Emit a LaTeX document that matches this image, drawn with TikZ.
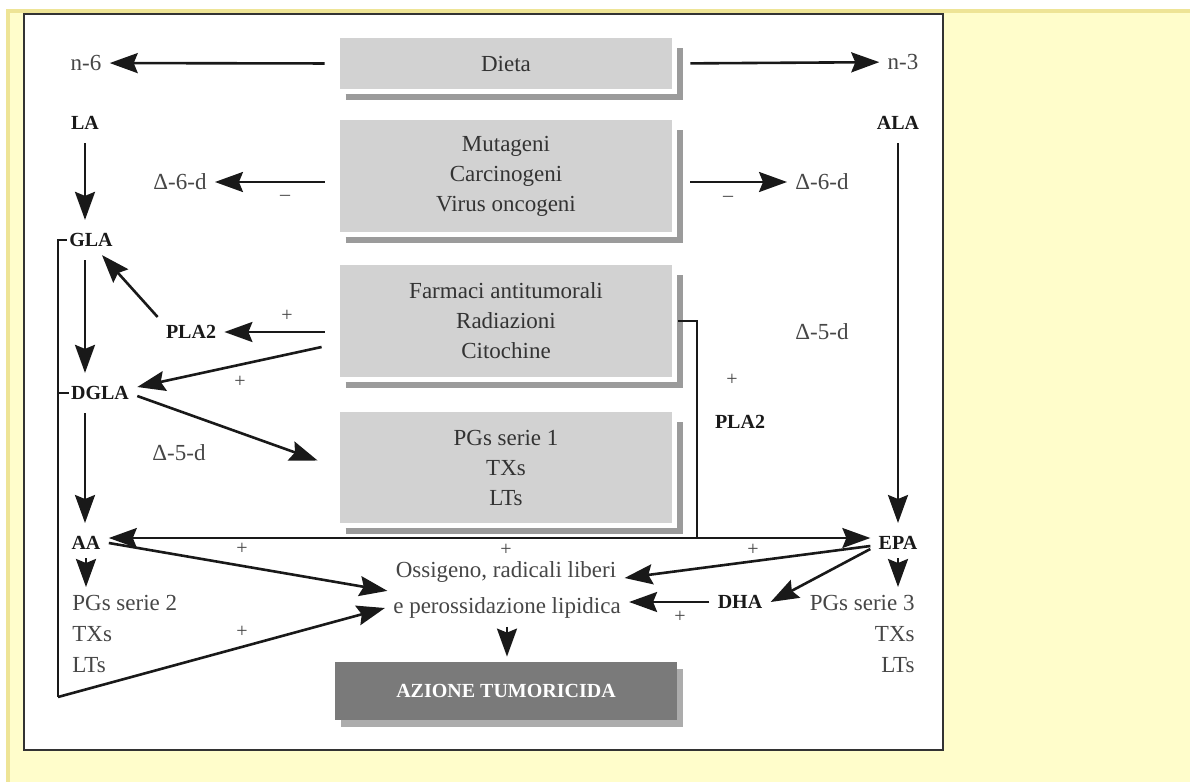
\documentclass[tikz,border=0pt]{standalone}
\usepackage{fontspec}
\setmainfont{Liberation Serif}
\usetikzlibrary{arrows.meta,calc,shadows}
\definecolor{pageyellow}{RGB}{255,253,203}
\definecolor{stripyellow}{RGB}{238,228,150}
\definecolor{boxgray}{RGB}{210,210,210}
\definecolor{shadegray}{RGB}{155,155,155}
\definecolor{darkbox}{RGB}{122,122,122}
\definecolor{darkshade}{RGB}{172,172,172}
\definecolor{textgray}{RGB}{70,70,70}
\definecolor{inkdark}{RGB}{25,25,25}
% L-shaped shade to the right of and below a factor box
\newcommand{\boxshade}[1]{\draw[shadowbar] ([xshift=3pt,yshift=-3.75pt]#1.south west) -| ([xshift=4pt,yshift=-5pt]#1.north east);}

\begin{document}
\begin{tikzpicture}[
  x=0.5pt,y=-0.5pt,
  >={Stealth[length=14pt,width=10pt,inset=2pt]},
  factorbox/.style={fill=boxgray,minimum width=166pt,inner sep=0pt,align=center,font=\fontsize{11.5}{15}\selectfont,text=black!80},
  shadowbar/.style={draw=shadegray,line width=3pt},
  lbl/.style={font=\fontsize{11.5}{15.5}\selectfont,text=textgray,inner sep=4pt},
  acid/.style={font=\fontsize{10}{12}\selectfont\bfseries,text=inkdark,inner sep=4pt},
  sign/.style={font=\fontsize{10}{10}\selectfont,text=textgray,inner sep=1pt},
  ar/.style={->,line width=1.3pt,draw=inkdark},
  link/.style={line width=1pt,draw=inkdark}
]
% page and frame
\useasboundingbox (0,0) rectangle (1190,782);
\fill[white] (0,0) rectangle (1190,782);
\fill[pageyellow] (6,9) rectangle (1190,782);
\fill[stripyellow] (6,9) rectangle (1190,13);
\fill[stripyellow] (6,9) rectangle (10,782);
\draw[line width=1.3pt,draw=black!80,fill=white] (24,14) rectangle (943,750);

% central factor boxes
\node[factorbox,minimum height=25.5pt] (dieta) at (506,63.5) {Dieta};
\node[factorbox,minimum height=56pt] (mut) at (506,176) {Mutageni\\Carcinogeni\\Virus oncogeni};
\node[factorbox,minimum height=56pt] (farm) at (506,321) {Farmaci antitumorali\\Radiazioni\\Citochine};
\node[factorbox,minimum height=55.5pt] (pgs1) at (506,467.5) {PGs serie 1\\TXs\\LTs};
\boxshade{dieta}
\boxshade{mut}
\boxshade{farm}
\boxshade{pgs1}
\node[factorbox,fill=darkbox,minimum width=171pt,minimum height=29pt,font=\fontsize{10}{12}\selectfont\bfseries,text=white,
  drop shadow={shadow xshift=3pt,shadow yshift=-3.5pt,fill=darkshade,opacity=1}] (azione) at (506,691) {AZIONE TUMORICIDA};

% left column: n-6 series
\node[lbl] (n6) at (86,63) {n-6};
\node[acid] (la) at (85,123) {LA};
\node[acid] (gla) at (91,240) {GLA};
\node[acid] (dgla) at (100,393) {DGLA};
\node[acid] (aa) at (86,543) {AA};
\node[lbl,align=left,anchor=north west] (pgs2) at (64,587) {PGs serie 2\\TXs\\LTs};
\node[lbl] (d6L) at (180,182) {Δ-6-d};
\node[acid] (pla2L) at (191,332) {PLA2};
\node[lbl] (d5L) at (179,453) {Δ-5-d};

% right column: n-3 series
\node[lbl] (n3) at (903,62) {n-3};
\node[acid] (ala) at (898,123) {ALA};
\node[lbl] (d6R) at (822,182) {Δ-6-d};
\node[lbl] (d5R) at (822,332) {Δ-5-d};
\node[acid] (pla2R) at (740,422) {PLA2};
\node[acid] (epa) at (898,543) {EPA};
\node[acid] (dha) at (740,602) {DHA};
\node[lbl,align=right,anchor=north east] (pgs3) at (923,587) {PGs serie 3\\TXs\\LTs};

% oxidative stress
\node[lbl] (ossA) at (506,572) {Ossigeno, radicali liberi};
\node[lbl] (ossB) at (507,608) {e perossidazione lipidica};

% signs
\node[sign] (mL) at (285,198) {–};
\node[sign] (mR) at (728,199) {–};
\node[sign] (pL1) at (287,316) {+};
\node[sign] (pL2) at (240,382) {+};
\node[sign] (pR1) at (732,380) {+};
\node[sign] (pM1) at (242,549) {+};
\node[sign] (pM2) at (506,550) {+};
\node[sign] (pM3) at (753,550) {+};
\node[sign] (pM4) at (242,632) {+};
\node[sign] (pM5) at (680,617) {+};

% diet and inhibitors
\draw[ar,shorten <=7.5pt] (dieta.west) -- (n6);
\draw[ar,shorten <=9pt] (dieta.east) -- (n3);
\draw[ar,shorten <=7.5pt] (d6L -| mut.west) -- (d6L);
\draw[ar,shorten <=9pt] (d6R -| mut.east) -- (d6R);

% n-6 chain
\draw[ar,shorten <=2.5pt,shorten >=2.5pt] (la) -- (la |- gla.north);
\draw[ar,shorten <=2.5pt,shorten >=2.5pt] (la |- gla.south) -- (la |- dgla.north);
\draw[ar,shorten <=2.5pt,shorten >=2.5pt] (la |- dgla.south) -- (la |- aa.north);
\draw[ar] (aa) -- (aa |- pgs2.north);
\draw[ar] (pla2L.north west) -- ([xshift=5.5pt]gla.south);
\draw[ar,shorten <=7.5pt] (pla2L -| farm.west) -- (pla2L);
\draw[ar] ([shift={(-18,26)}]farm.west) -- ([yshift=3pt]dgla.east);
\draw[ar] ([yshift=-1.5pt]dgla.east) -- ([shift={(-22,-7)}]pgs1.west);

% bracket from GLA and DGLA
\coordinate (brk) at (58,697);
\draw[link] ([xshift=3pt]gla.west) -| (brk);
\draw[link] ([xshift=3pt]dgla.west) -- (dgla.west -| brk);
\draw[ar] (brk) -- (ossB.west);

% n-3 chain
\draw[ar,shorten <=2.5pt,shorten >=2.5pt] (ala) -- (ala |- epa.north);
\draw[ar] (epa) -- (epa |- pgs3.north);
\draw[ar] ([yshift=-1.5pt]epa.west) -- ([yshift=-3pt]ossA.east);
\draw[ar] ([yshift=-3pt]epa.west) -- (dha.east);
\draw[ar] (dha.west) -- (dha.west -| ossB.east);

% PLA2 release to AA and EPA
\coordinate (pjoin) at (697,538);
\draw[link] ([xshift=3pt]farm.east) -| (pjoin);
\draw[link,<->] ([yshift=2.5pt]aa.east) -- ([yshift=2.5pt]epa.west);
\draw[ar] (aa.east) -- (ossA.south west);
\draw[ar,shorten >=2.5pt] (ossB.south) -- (ossB.south |- azione.north);
\end{tikzpicture}
\end{document}
